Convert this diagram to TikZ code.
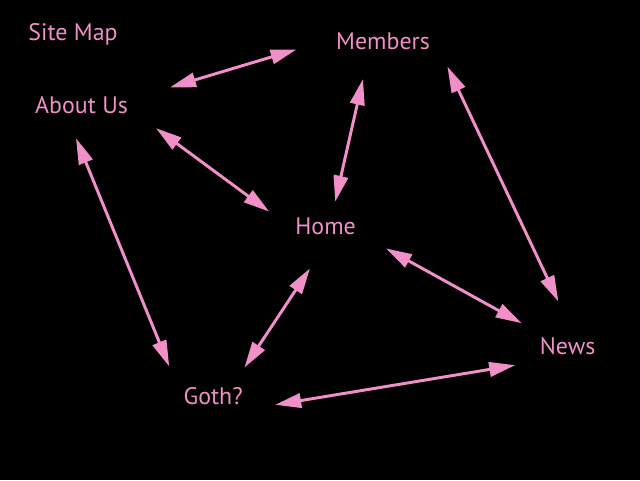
\documentclass[tikz,border=0pt]{standalone}
\usepackage{fontspec}
\setmainfont{PT Sans}
\usepackage{tikz}
\usetikzlibrary{arrows.meta,calc}
\definecolor{GothPink}{HTML}{F08FC8}
\definecolor{GothBlack}{HTML}{000000}

\begin{document}
\begin{tikzpicture}[
  page/.style={font=\fontsize{17}{19}\selectfont,text=GothPink,
               inner sep=0pt,text height=1.2em,text depth=0pt},
  link/.style={{Triangle[length=0.65cm,width=0.36cm]}-{Triangle[length=0.65cm,width=0.36cm]},
               line width=2.1pt,GothPink}
]
  % background
  \fill[GothBlack] (0,0) rectangle (16,12);
  \useasboundingbox (0,0) rectangle (16,12);

  % pages
  \node[page] (sitemap) at (1.825,11.21) {Site Map};
  \node[page] (members) at (9.575,10.975) {Members};
  \node[page] (about)   at (2.04,9.375) {About Us};
  \node[page] (home)    at (8.14,6.34) {Home};
  \node[page] (news)    at (14.19,3.36) {News};
  \node[page] (goth)    at (5.33,2.09) {Goth?};

  % links
  \draw[link] ($(about)+(2.21,0.44)$)   -- ($(members)+(-2.16,-0.21)$);
  \draw[link] ($(about)+(1.86,-0.58)$)  -- ($(home)+(-1.41,0.37)$);
  \draw[link] ($(about)+(-0.14,-0.83)$) -- ($(goth)+(-1.10,0.75)$);
  \draw[link] ($(members)+(-0.50,-0.95)$) -- ($(home)+(0.24,0.62)$);
  \draw[link] ($(members)+(1.61,-0.64)$)  -- ($(news)+(-0.23,1.10)$);
  \draw[link] ($(home)+(1.51,-0.55)$)   -- ($(news)+(-1.15,0.56)$);
  \draw[link] ($(home)+(-0.39,-1.05)$)  -- ($(goth)+(0.78,0.72)$);
  \draw[link] ($(goth)+(1.55,-0.21)$)   -- ($(news)+(-1.31,-0.49)$);
\end{tikzpicture}
\end{document}
